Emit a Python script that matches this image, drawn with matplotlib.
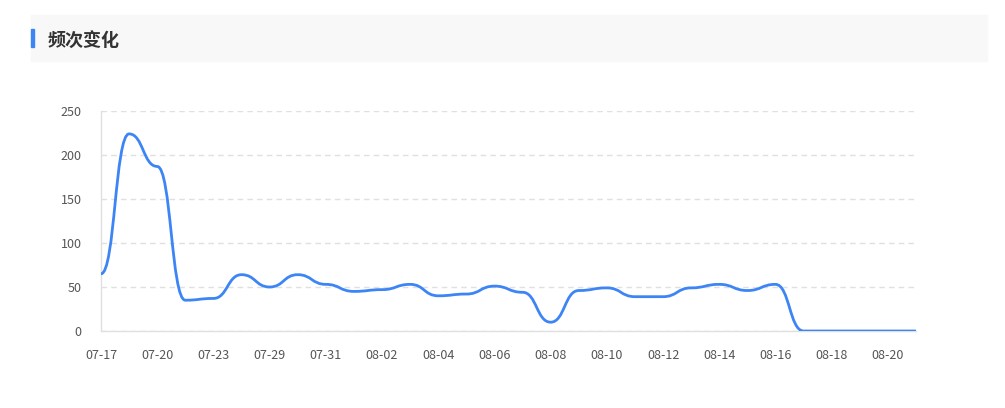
import matplotlib.pyplot as plt
from matplotlib.path import Path
from matplotlib.patches import PathPatch, Rectangle

plt.rcParams['font.family'] = ['Noto Sans CJK SC', 'DejaVu Sans']

title = '频次变化'
dates = ['07-17', '07-18', '07-20', '07-21', '07-23', '07-24', '07-29', '07-30',
         '07-31', '08-01', '08-02', '08-03', '08-04', '08-05', '08-06', '08-07',
         '08-08', '08-09', '08-10', '08-11', '08-12', '08-13', '08-14', '08-15',
         '08-16', '08-17', '08-18', '08-19', '08-20', '08-21']
counts = [65, 224, 187, 35, 37, 64, 50, 64, 53, 45, 47, 53, 40, 42, 51, 44,
          10, 46, 49, 39, 39, 49, 53, 46, 53, 0, 0, 0, 0, 0]
yticks = [0, 50, 100, 150, 200, 250]

line_color = '#3d85f5'


def smooth_path(xs, ys, smooth=0.5):
    # bezier through each point with a flat tangent (monotone in x)
    verts = [(xs[0], ys[0])]
    codes = [Path.MOVETO]
    for k in range(1, len(xs)):
        dx = xs[k] - xs[k - 1]
        verts += [(xs[k - 1] + dx * smooth, ys[k - 1]),
                  (xs[k] - dx * smooth, ys[k]),
                  (xs[k], ys[k])]
        codes += [Path.CURVE4] * 3
    return Path(verts, codes)


fig = plt.figure(figsize=(10.05, 4.08), dpi=100)

# title band
fig.patches.append(Rectangle((31 / 1005, 1 - 61 / 408), 956 / 1005, 46 / 408,
                             transform=fig.transFigure, color='#f8f8f8', zorder=0))
fig.patches.append(Rectangle((31 / 1005, 1 - 47 / 408), 3 / 1005, 18 / 408,
                             transform=fig.transFigure, color='#3d85f5', zorder=1))
fig.text(48 / 1005, 1 - 40 / 408, title, fontsize=13, fontweight='bold',
         color='#333333', va='center', ha='left')

ax = fig.add_axes([101 / 1005, 77 / 408, 815 / 1005, 220 / 408])
xs = list(range(len(dates)))
path = smooth_path(xs, counts)
ax.add_patch(PathPatch(path, facecolor='none', edgecolor=line_color, lw=2,
                       capstyle='round', joinstyle='round', zorder=3))

ax.set_xlim(0, len(dates) - 1)
ax.set_ylim(0, 250)
ax.set_yticks(yticks)
ax.set_xticks(xs[::2])
ax.set_xticklabels(dates[::2])
ax.grid(axis='y', color='#e0e0e0', linestyle=(0, (4, 3)), lw=1)
ax.set_axisbelow(True)
for s in ['top', 'right']:
    ax.spines[s].set_visible(False)
for s in ['left', 'bottom']:
    ax.spines[s].set_color('#e0e0e0')
    ax.spines[s].set_linewidth(1)
ax.tick_params(length=0, labelsize=9, labelcolor='#555555')
ax.tick_params(axis='x', pad=13)
ax.tick_params(axis='y', pad=14)

fig.savefig('out.png', dpi=100)
